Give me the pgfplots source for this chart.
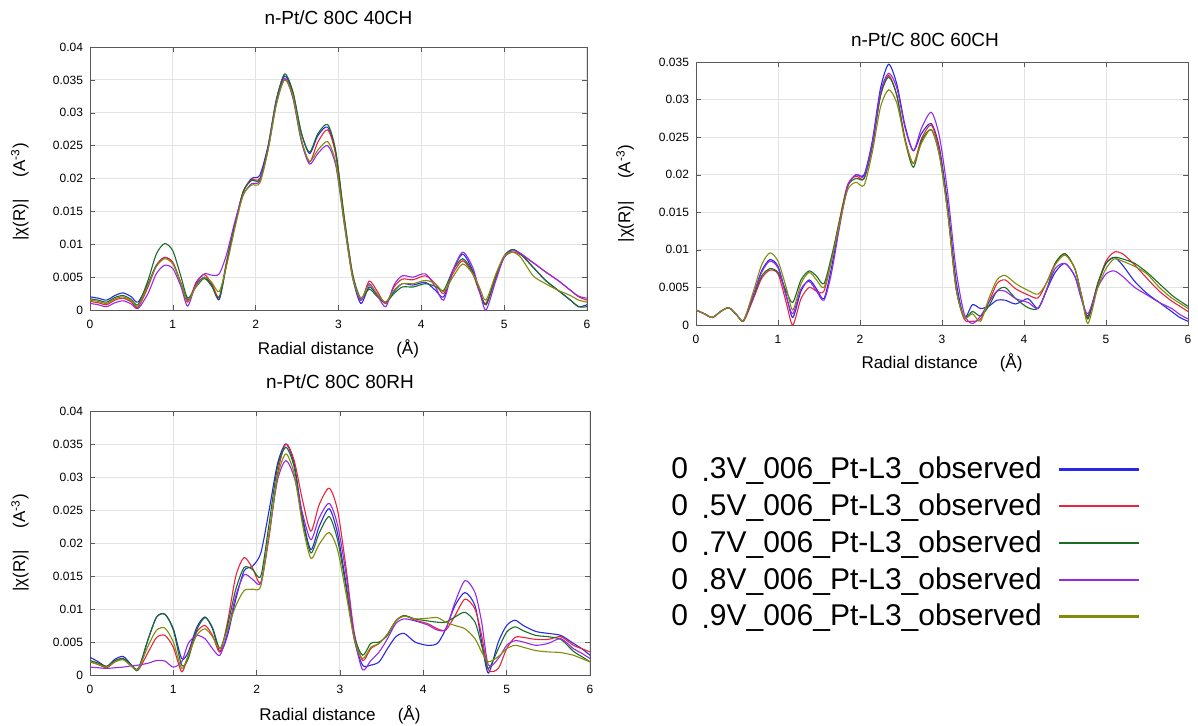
\documentclass[border=0pt]{standalone}
\usepackage{pgfplots}
\pgfplotsset{compat=1.18}
\usepackage{pgfplotstable}
\usepackage{fontspec}
\setmainfont{Liberation Sans}

\definecolor{c3}{RGB}{40,40,230}
\definecolor{c5}{RGB}{235,35,60}
\definecolor{c7}{RGB}{25,110,35}
\definecolor{c8}{RGB}{150,40,230}
\definecolor{c9}{RGB}{130,140,10}

% 40CH
\pgfplotstableread{
x     b      r      g      p      o
0     .0020  .0013  .0017  .0010  .0015
0.1   .0018  .0011  .0015  .0008  .0013
0.2   .0015  .0008  .0012  .0005  .0010
0.3   .0022  .0015  .0019  .0011  .0017
0.4   .0026  .0018  .0022  .0014  .0020
0.5   .0020  .0012  .0016  .0009  .0014
0.58  .0012  .0004  .0008  .0002  .0006
0.7   .0040  .0035  .0045  .0025  .0038
0.8   .0068  .0067  .0085  .0055  .0066
0.9   .0080  .0080  .0101  .0068  .0078
1.0   .0072  .0072  .0090  .0063  .0070
1.1   .0040  .0040  .0050  .0035  .0040
1.18  .0015  .0012  .0018  .0006  .0014
1.28  .0038  .0042  .0035  .0040  .0036
1.38  .0050  .0054  .0048  .0055  .0050
1.47  .0038  .0040  .0036  .0053  .0042
1.56  .0016  .0020  .0018  .0055  .0028
1.65  .0070  .0075  .0072  .0085  .0068
1.75  .0130  .0132  .0130  .0135  .0125
1.85  .0180  .0180  .0180  .0175  .0175
1.95  .0200  .0198  .0197  .0192  .0190
2.05  .0205  .0200  .0198  .0196  .0193
2.15  .0250  .0245  .0248  .0245  .0243
2.25  .0320  .0315  .0320  .0315  .0312
2.35  .0356  .0352  .0359  .0352  .0350
2.45  .0330  .0325  .0332  .0322  .0325
2.55  .0270  .0260  .0270  .0257  .0260
2.65  .0238  .0225  .0240  .0222  .0226
2.75  .0265  .0255  .0268  .0238  .0243
2.87  .0278  .0274  .0282  .0250  .0256
2.97  .0235  .0235  .0240  .0218  .0222
3.07  .0135  .0140  .0140  .0130  .0132
3.17  .0050  .0055  .0055  .0050  .0050
3.27  .0010  .0015  .0018  .0015  .0018
3.37  .0035  .0044  .0032  .0040  .0038
3.47  .0022  .0028  .0020  .0022  .0024
3.57  .0010  .0010  .0012  .0005  .0012
3.67  .0028  .0035  .0025  .0038  .0030
3.77  .0040  .0047  .0035  .0052  .0040
3.9   .0038  .0046  .0035  .0050  .0040
4.05  .0042  .0052  .0040  .0055  .0045
4.17  .0030  .0040  .0036  .0035  .0040
4.27  .0020  .0025  .0030  .0015  .0028
4.38  .0060  .0055  .0060  .0060  .0050
4.5   .0085  .0075  .0078  .0088  .0070
4.62  .0060  .0055  .0058  .0065  .0055
4.7   .0030  .0028  .0030  .0030  .0035
4.78  .0008  .0010  .0008  .0000  .0015
4.9   .0050  .0050  .0052  .0045  .0055
5.0   .0082  .0080  .0082  .0080  .0082
5.1   .0092  .0088  .0092  .0090  .0088
5.2   .0085  .0084  .0085  .0086  .0080
5.35  .0065  .0072  .0065  .0072  .0052
5.5   .0045  .0058  .0045  .0058  .0040
5.65  .0030  .0045  .0030  .0045  .0030
5.8   .0015  .0030  .0015  .0030  .0022
5.9   .0005  .0020  .0005  .0021  .0015
6.0   .0008  .0015  .0005  .0018  .0012
}\dataA

% 60CH
\pgfplotstableread{
x     b      r      g      p      o
0     .0020  .0020  .0020  .0020  .0020
0.1   .0015  .0015  .0015  .0015  .0015
0.2   .0010  .0010  .0010  .0010  .0010
0.3   .0018  .0018  .0018  .0018  .0018
0.4   .0023  .0023  .0023  .0023  .0023
0.5   .0013  .0013  .0013  .0013  .0013
0.58  .0006  .0005  .0006  .0006  .0006
0.7   .0040  .0035  .0038  .0040  .0045
0.8   .0072  .0062  .0065  .0070  .0080
0.9   .0087  .0073  .0075  .0085  .0096
1.0   .0078  .0068  .0070  .0076  .0085
1.1   .0040  .0030  .0045  .0038  .0050
1.18  .0010  .0000  .0030  .0015  .0020
1.28  .0045  .0035  .0060  .0048  .0055
1.38  .0060  .0050  .0072  .0058  .0070
1.47  .0048  .0045  .0065  .0045  .0060
1.56  .0035  .0045  .0055  .0033  .0050
1.65  .0075  .0085  .0090  .0068  .0085
1.75  .0135  .0140  .0138  .0130  .0135
1.85  .0185  .0187  .0185  .0185  .0180
1.95  .0200  .0198  .0195  .0200  .0190
2.05  .0200  .0195  .0195  .0198  .0186
2.15  .0245  .0238  .0238  .0242  .0230
2.25  .0315  .0305  .0305  .0310  .0290
2.35  .0347  .0332  .0330  .0335  .0313
2.45  .0320  .0305  .0305  .0315  .0295
2.55  .0265  .0248  .0245  .0262  .0245
2.65  .0232  .0215  .0210  .0232  .0215
2.75  .0255  .0248  .0245  .0262  .0242
2.87  .0268  .0266  .0260  .0283  .0260
2.97  .0235  .0230  .0225  .0250  .0225
3.07  .0160  .0150  .0150  .0175  .0150
3.17  .0060  .0050  .0050  .0075  .0050
3.27  .0010  .0008  .0010  .0015  .0010
3.37  .0027  .0005  .0018  .0002  .0015
3.47  .0022  .0008  .0012  .0012  .0005
3.57  .0025  .0030  .0025  .0030  .0035
3.67  .0033  .0055  .0045  .0045  .0060
3.77  .0033  .0060  .0050  .0045  .0066
3.9   .0028  .0048  .0035  .0035  .0055
4.05  .0035  .0040  .0023  .0030  .0046
4.17  .0022  .0036  .0022  .0022  .0041
4.27  .0045  .0055  .0045  .0045  .0055
4.38  .0070  .0082  .0082  .0075  .0080
4.5   .0082  .0095  .0095  .0082  .0093
4.62  .0065  .0075  .0075  .0065  .0075
4.7   .0035  .0040  .0040  .0035  .0040
4.78  .0012  .0010  .0008  .0015  .0002
4.9   .0055  .0055  .0055  .0050  .0050
5.0   .0082  .0085  .0082  .0068  .0075
5.1   .0090  .0097  .0090  .0072  .0088
5.2   .0080  .0095  .0088  .0065  .0085
5.35  .0058  .0080  .0082  .0050  .0078
5.5   .0042  .0062  .0070  .0040  .0068
5.65  .0030  .0045  .0055  .0030  .0050
5.8   .0018  .0032  .0040  .0022  .0036
5.9   .0010  .0025  .0032  .0014  .0029
6.0   .0005  .0018  .0025  .0008  .0022
}\dataB

% 80RH
\pgfplotstableread{
x     b      r      g      p      o
0     .0027  .0020  .0022  .0012  .0020
0.1   .0020  .0016  .0018  .0011  .0016
0.2   .0013  .0011  .0013  .0010  .0012
0.3   .0024  .0020  .0022  .0011  .0020
0.4   .0028  .0024  .0025  .0012  .0023
0.5   .0015  .0013  .0014  .0014  .0013
0.58  .0010  .0008  .0008  .0015  .0009
0.7   .0055  .0035  .0055  .0018  .0045
0.8   .0088  .0057  .0088  .0022  .0068
0.9   .0092  .0060  .0092  .0021  .0071
1.0   .0070  .0042  .0068  .0012  .0050
1.1   .0025  .0005  .0015  .0020  .0010
1.18  .0035  .0030  .0025  .0048  .0030
1.28  .0072  .0065  .0068  .0060  .0060
1.38  .0088  .0075  .0087  .0055  .0070
1.47  .0070  .0060  .0072  .0040  .0058
1.56  .0035  .0035  .0040  .0030  .0040
1.65  .0060  .0080  .0075  .0065  .0070
1.75  .0115  .0150  .0130  .0120  .0105
1.85  .0158  .0178  .0163  .0152  .0128
1.95  .0165  .0162  .0160  .0145  .0130
2.05  .0185  .0140  .0150  .0140  .0135
2.15  .0250  .0210  .0230  .0215  .0215
2.25  .0320  .0305  .0315  .0295  .0300
2.35  .0350  .0350  .0345  .0325  .0335
2.45  .0320  .0325  .0315  .0300  .0305
2.55  .0240  .0265  .0235  .0245  .0228
2.65  .0190  .0218  .0185  .0205  .0177
2.75  .0225  .0258  .0215  .0238  .0198
2.87  .0252  .0283  .0240  .0260  .0216
2.97  .0215  .0250  .0205  .0228  .0190
3.07  .0140  .0165  .0135  .0155  .0125
3.17  .0055  .0065  .0060  .0060  .0055
3.27  .0015  .0022  .0030  .0008  .0025
3.37  .0015  .0040  .0048  .0022  .0042
3.47  .0020  .0048  .0050  .0035  .0048
3.57  .0040  .0062  .0060  .0055  .0062
3.67  .0058  .0082  .0082  .0078  .0082
3.77  .0063  .0090  .0090  .0085  .0089
3.9   .0050  .0083  .0085  .0082  .0085
4.05  .0045  .0078  .0082  .0076  .0086
4.17  .0048  .0070  .0080  .0068  .0087
4.27  .0070  .0068  .0080  .0070  .0080
4.38  .0105  .0090  .0088  .0110  .0075
4.5   .0125  .0115  .0095  .0143  .0070
4.62  .0105  .0100  .0080  .0125  .0055
4.7   .0050  .0060  .0045  .0080  .0035
4.78  .0003  .0008  .0010  .0015  .0020
4.9   .0050  .0010  .0040  .0025  .0028
5.0   .0075  .0040  .0065  .0045  .0040
5.1   .0083  .0057  .0073  .0052  .0045
5.2   .0075  .0057  .0067  .0050  .0042
5.35  .0066  .0054  .0060  .0045  .0037
5.5   .0063  .0054  .0058  .0048  .0035
5.65  .0060  .0058  .0054  .0055  .0034
5.8   .0048  .0045  .0036  .0040  .0030
5.9   .0040  .0040  .0028  .0033  .0025
6.0   .0030  .0035  .0020  .0025  .0020
}\dataC

\pgfplotsset{
  every axis title shift=0pt,
  panel/.style={
    scale only axis,
    anchor=south west,
    xmin=0, xmax=6, ymin=0,
    xtick={0,1,2,3,4,5,6},
    grid=major,
    grid style={gray!22, line width=0.5pt},
    axis line style={black!65},
    tick style={black!65},
    major tick length=2.5pt,
    tick label style={font=\fontsize{6}{7}\selectfont},
    xticklabel style={yshift=-1.5pt},
    /pgf/number format/assume math mode=true,
    yticklabel style={/pgf/number format/fixed, /pgf/number format/precision=3},
    scaled y ticks=false,
    xlabel={Radial distance\hspace{1.3em}(Å)},
    ylabel={|χ(R)|\hspace{1.3em}(A\textsuperscript{-3})},
    label style={font=\fontsize{8.5}{10}\selectfont},
    title style={font=\fontsize{9.5}{11}\selectfont, at={(axis description cs:0.5,1)}, anchor=center},
    every axis plot/.append style={line width=0.55pt, smooth, tension=0.45, no markers},
    cycle list={{c3},{c5},{c7},{c8},{c9}},
  }
}

\begin{document}
\begin{tikzpicture}
\useasboundingbox (0pt,0pt) rectangle (599pt,362.5pt);

\begin{axis}[panel,
  at={(45pt,207.5pt)}, width=248.5pt, height=131.5pt,
  ymax=0.04, ytick={0,0.005,0.01,0.015,0.02,0.025,0.03,0.035,0.04},
  title={n-Pt/C 80C 40CH}, title style={yshift=14.5pt},
  xlabel style={at={(axis description cs:0.5,0)}, anchor=center, yshift=-19.5pt},
  ylabel style={at={(axis description cs:-0.141,0.45)}, anchor=center}]
\addplot table[x=x,y=b]{\dataA};
\addplot table[x=x,y=r]{\dataA};
\addplot table[x=x,y=g]{\dataA};
\addplot table[x=x,y=p]{\dataA};
\addplot table[x=x,y=o]{\dataA};
\end{axis}

\begin{axis}[panel,
  at={(348pt,200pt)}, width=246pt, height=131.5pt,
  ymax=0.035, ytick={0,0.005,0.01,0.015,0.02,0.025,0.03,0.035},
  title={n-Pt/C 80C 60CH}, title style={yshift=11pt, xshift=-8.5pt},
  xlabel style={at={(axis description cs:0.5,0)}, anchor=center, yshift=-19pt},
  ylabel style={at={(axis description cs:-0.144,0.5)}, anchor=center}]
\addplot table[x=x,y=b]{\dataB};
\addplot table[x=x,y=r]{\dataB};
\addplot table[x=x,y=g]{\dataB};
\addplot table[x=x,y=p]{\dataB};
\addplot table[x=x,y=o]{\dataB};
\end{axis}

\begin{axis}[panel,
  at={(45pt,25pt)}, width=250pt, height=132pt,
  ymax=0.04, ytick={0,0.005,0.01,0.015,0.02,0.025,0.03,0.035,0.04},
  title={n-Pt/C 80C 80RH}, title style={yshift=14.5pt},
  xlabel style={at={(axis description cs:0.5,0)}, anchor=center, yshift=-20pt},
  ylabel style={at={(axis description cs:-0.14,0.5)}, anchor=center},
  legend plot pos=right,
  legend cell align=left,
  legend image code/.code={\draw[#1, line width=1.2pt] (0pt,0pt) -- (40pt,0pt);},
  legend style={at={(axis description cs:1.142,0.857)}, anchor=north west,
    draw=none, fill=none, font=\fontsize{15}{18}\selectfont,
    row sep=2pt, column sep=6pt}]
\addplot table[x=x,y=b]{\dataC};
\addlegendentry{0\hspace{0.45em}\raisebox{-1.5pt}{.}3V\_006\_Pt-L3\_observed}
\addplot table[x=x,y=r]{\dataC};
\addlegendentry{0\hspace{0.45em}\raisebox{-1.5pt}{.}5V\_006\_Pt-L3\_observed}
\addplot table[x=x,y=g]{\dataC};
\addlegendentry{0\hspace{0.45em}\raisebox{-1.5pt}{.}7V\_006\_Pt-L3\_observed}
\addplot table[x=x,y=p]{\dataC};
\addlegendentry{0\hspace{0.45em}\raisebox{-1.5pt}{.}8V\_006\_Pt-L3\_observed}
\addplot table[x=x,y=o]{\dataC};
\addlegendentry{0\hspace{0.45em}\raisebox{-1.5pt}{.}9V\_006\_Pt-L3\_observed}
\end{axis}
\end{tikzpicture}
\end{document}
